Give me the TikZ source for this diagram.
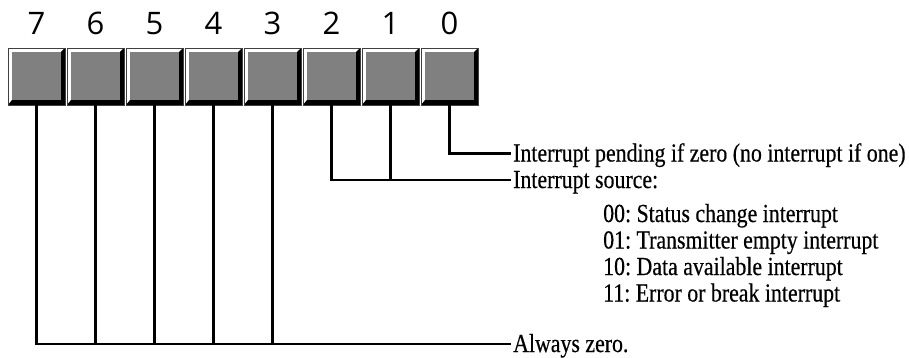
\documentclass[tikz,border=0pt]{standalone}
\usepackage{fontspec}
\setmainfont{Liberation Serif}[FakeStretch=0.84,FakeBold=0.4]
\newfontfamily\digitfont{Open Sans}
\frenchspacing
\begin{document}
\begin{tikzpicture}[x=1pt,y=-1pt,
  bitbox/.style={rectangle, minimum width=57pt, minimum height=57pt, inner sep=0pt,
    draw=black!75, line width=0.8pt, fill=white,
    path picture={
      \fill[black] (path picture bounding box.north east)
        -- (path picture bounding box.south east)
        -- (path picture bounding box.south west)
        -- ([shift={(4pt,5pt)}]path picture bounding box.south west)
        -- ([shift={(-4pt,5pt)}]path picture bounding box.south east)
        -- ([shift={(-4pt,-4pt)}]path picture bounding box.north east) -- cycle;
      \fill[gray] ([shift={(4pt,-4pt)}]path picture bounding box.north west)
        rectangle ([shift={(-4pt,5pt)}]path picture bounding box.south east);
    }},
  wire/.style={line width=2.2pt, black},
  lbl/.style={anchor=west, inner sep=0pt, text height=16pt, text depth=0pt,
    font=\fontsize{26}{28}\selectfont},
  digit/.style={anchor=base, inner sep=0pt, font=\digitfont\fontsize{31}{34}\selectfont}]
\useasboundingbox (0,0) rectangle (909,358);

\foreach \i in {0,...,7} {
  \pgfmathsetmacro{\cx}{36.5+59*(7-\i)}
  \node[bitbox] (b\i) at (\cx,76.5) {};
  \node[digit] (d\i) at (\cx,35) {\i};
}

\node[lbl] (t0) at (513,153.5) {Interrupt pending if zero (no interrupt if one)};
\node[lbl] (t1) at (513,180) {Interrupt source:};
\node[lbl] (s0) at (603,214) {00: Status change interrupt};
\node[lbl] (s1) at (603,240.5) {01: Transmitter empty interrupt};
\node[lbl] (s2) at (603,267) {10: Data available interrupt};
\node[lbl] (s3) at (603,293.5) {11: Error or break interrupt};
\node[lbl] (t2) at (513,344) {Always zero.};

\draw[wire] (b0.south) |- ([xshift=-2pt]t0.west);
\draw[wire] (b2.south) |- ([xshift=-2pt]t1.west);
\draw[wire] (b1.south) -- (b1.south |- t1.west);
\draw[wire] (b7.south) |- ([xshift=-2pt]t2.west);
\foreach \i in {6,5,4,3} {
  \draw[wire] (b\i.south) -- (b\i.south |- t2.west);
}
\end{tikzpicture}
\end{document}
